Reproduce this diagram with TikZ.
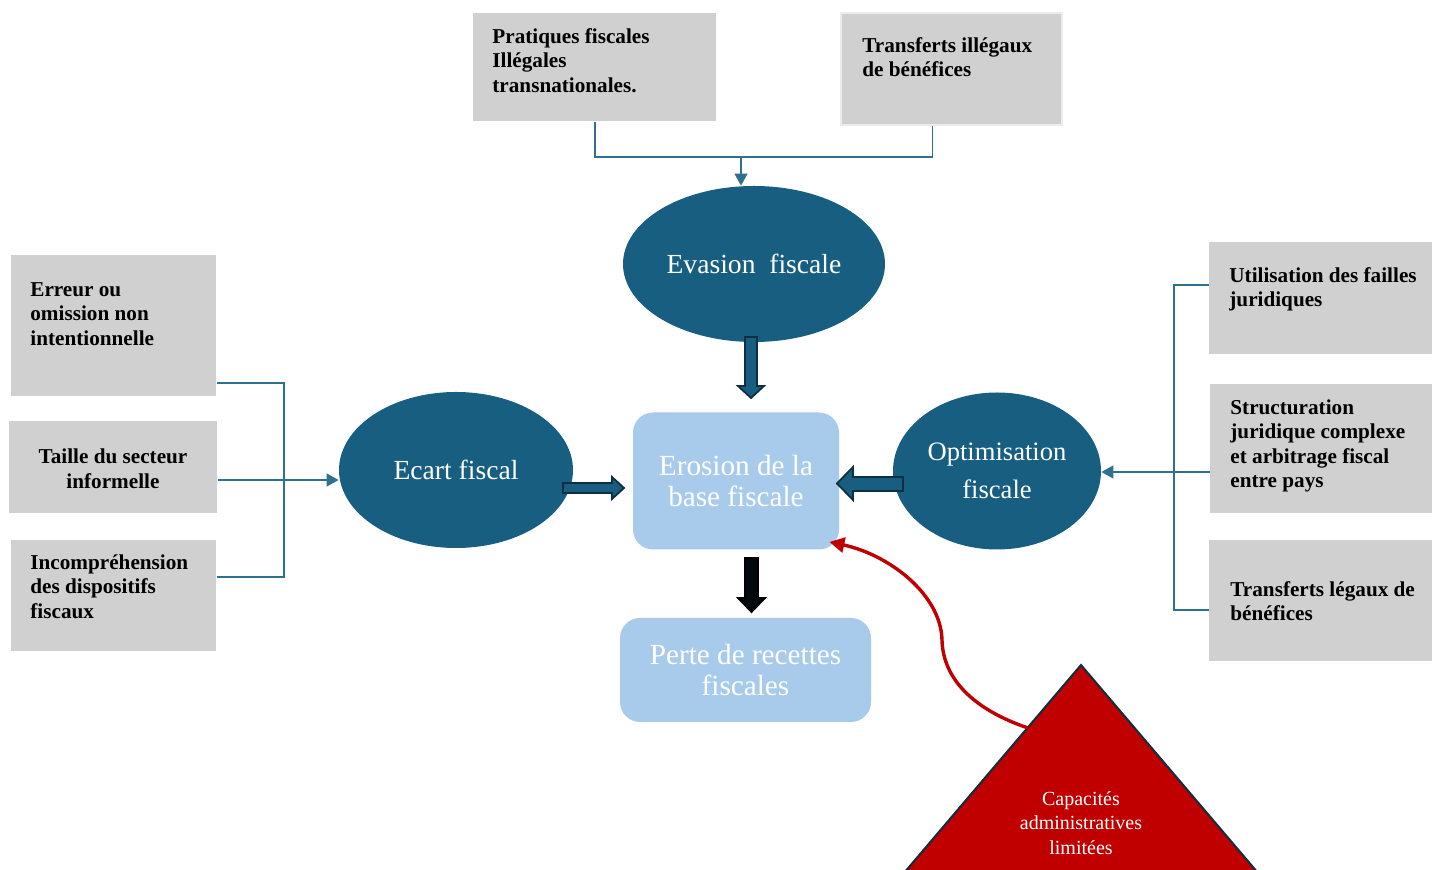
\documentclass[tikz,border=0pt]{standalone}
\usepackage{fontspec}
\setmainfont{Liberation Serif}
\usetikzlibrary{shapes.geometric,calc,arrows.meta}
\definecolor{dk}{HTML}{175E80}
\definecolor{lb}{HTML}{A9CBEB}
\definecolor{gb}{HTML}{D0D0D0}
\definecolor{ln}{HTML}{2F7090}
\definecolor{rd}{HTML}{C00000}
\definecolor{ol}{HTML}{0E2F40}
\begin{document}
\begin{tikzpicture}[x=0.5pt,y=-0.5pt,
 gbox/.style={fill=gb, draw=none, inner sep=0, anchor=north west},
 btext/.style={font=\fontsize{10.6}{12.3}\selectfont\bfseries, align=left, anchor=north west, inner sep=0},
 oval/.style={ellipse, fill=dk, inner sep=0, text=white, font=\fontsize{13.8}{15}\selectfont, align=center},
 rbox/.style={rounded corners=10pt, fill=lb, inner sep=0, text=white, font=\fontsize{14.6}{15.6}\selectfont, align=center},
 conn/.style={draw=ln, line width=0.75pt},
 tip/.style={-{Triangle[length=6pt,width=6.5pt]}},
 barrow/.style={fill=dk, draw=ol, line width=0.9pt, line join=miter},
]
\clip (0,0) rectangle (1432,870);
\useasboundingbox (0,0) rectangle (1432,870);

% grey boxes
\node[gbox, minimum width=121.5pt, minimum height=54pt] (p) at (473,13) {};
\node[gbox, draw=gray!15, line width=1pt, minimum width=110.5pt, minimum height=56pt] (t) at (840,12) {};
\node[gbox, minimum width=102.5pt, minimum height=70.5pt] (e1) at (11,255) {};
\node[gbox, minimum width=104pt, minimum height=46pt] (e2) at (9,421) {};
\node[gbox, minimum width=102.5pt, minimum height=55.5pt] (e3) at (11,540) {};
\node[gbox, minimum width=111.5pt, minimum height=56pt] (r1) at (1209,242) {};
\node[gbox, minimum width=111pt, minimum height=64.5pt] (r2) at (1210,384) {};
\node[gbox, minimum width=111.5pt, minimum height=60.5pt] (r3) at (1209,540) {};

\node[btext] (pt) at (492,28) {Pratiques fiscales\\Illégales\\transnationales.};
\node[btext] (tt) at (862,37) {Transferts illégaux\\de bénéfices};
\node[btext] (e1t) at (30,282) {Erreur ou\\omission non\\intentionnelle};
\node[btext, anchor=center, align=center] (e2t) at (113,469) {Taille du secteur\\informelle};
\node[btext] (e3t) at (30,554) {Incompréhension\\des dispositifs\\fiscaux};
\node[btext] (r1t) at (1229,267) {Utilisation des failles\\juridiques};
\node[btext] (r2t) at (1230,399) {Structuration\\juridique complexe\\et arbitrage fiscal\\entre pays};
\node[btext] (r3t) at (1230,581) {Transferts légaux de\\bénéfices};

% ellipses
\node[oval, minimum width=131pt, minimum height=78pt] (ev) at (754,264) {Evasion~ fiscale};
\node[oval, minimum width=117pt, minimum height=78pt] (ec) at (456,470) {Ecart fiscal};
\node[oval, minimum width=104pt, minimum height=78.5pt, font=\fontsize{13.3}{19}\selectfont] (op) at (997,471) {Optimisation\\fiscale};

% light blue boxes
\node[rbox, minimum width=103pt, minimum height=68.5pt] (er) at (736,481) {Erosion de la\\base fiscale};
\node[rbox, minimum width=125.5pt, minimum height=52pt] (pe) at (745.5,670) {Perte de recettes\\fiscales};

% connectors top
\coordinate (j) at (741,156);
\draw[conn] (p.south) -- ++(0,35) -| ($(t.south)+(-19,0)$);
\draw[conn,tip] (j) -- (ev.north -| j);

% connectors left
\draw[conn] (e1.east |- 0,383) -| (284,577) -- (e3.east |- 0,577);
\draw[conn,tip] (e2.east |- 0,480) -- (ec.west |- 0,480);

% connectors right
\draw[conn] (r1.west |- 0,285) -| (1174,610) -- (r3.west |- 0,610);
\draw[conn,tip] (r2.west |- 0,472) -- (op.east |- 0,472);

% block arrows
\draw[barrow] (745,337) -- (745,386) -- (738,386) -- (751,398) -- (764,386) -- (757,386) -- (757,337) -- cycle;
\draw[barrow] (563,483) -- (612,483) -- (612,477) -- (624,488) -- (612,499) -- (612,493) -- (563,493) -- cycle;
\draw[barrow] (903,477) -- (853,477) -- (853,467) -- (837,483.5) -- (853,500) -- (853,491) -- (903,491) -- cycle;
\draw[barrow, fill=black!90!dk, draw=black] (745,558) -- (745,598) -- (738,598) -- (751.5,612) -- (765,598) -- (758,598) -- (758,558) -- cycle;

% triangle
\fill[rd] (898,880) -- (1081,665) -- (1264,880) -- cycle;
\draw[ol, line width=1pt, line join=miter] (898,880) -- (1081,665) -- (1264,880);
\node[font=\fontsize{10}{12.3}\selectfont, text=white, align=center, inner sep=0] (cap) at (1081,823) {Capacités\\administratives\\limitées};

% red curve
\coordinate (cs) at (1028,728);
\draw[rd, line width=1.7pt, -{Triangle[length=7.5pt,width=7.5pt]}] (cs) .. controls (975,710) and (943,680) .. (942,640) .. controls (941,595) and (890,555) .. ($(er.south east)+(-10,-8)$);
\end{tikzpicture}
\end{document}
